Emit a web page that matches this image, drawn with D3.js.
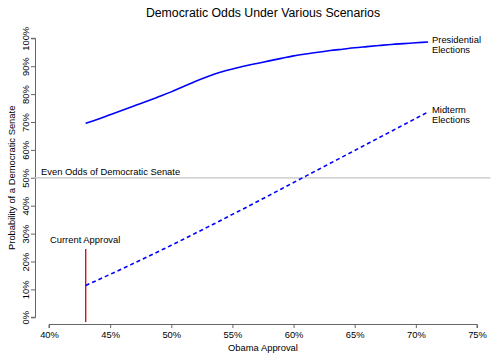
<!DOCTYPE html>
<html><head><meta charset="utf-8">
<script src="https://cdn.jsdelivr.net/npm/d3@7"></script>
<style>
body{margin:0;background:#fff;}
text{font-family:"Liberation Sans",Arial,sans-serif;fill:#000;}
</style></head>
<body><svg id="c" width="495" height="360"></svg>
<script>
const title = "Democratic Odds Under Various Scenarios";
const xTitle = "Obama Approval";
const yTitle = "Probability of a Democratic Senate";
const xTicks = [40,45,50,55,60,65,70,75];
const yTicks = [0,10,20,30,40,50,60,70,80,90,100];
const approval = [43,44,45,46,47,48,49,50,51,52,53,54,55,56,57,58,59,60,61,62,63,64,65,66,67,68,69,70,71];
const presidential = [69.5,71.0,72.6,74.2,75.8,77.4,79.1,80.8,82.7,84.6,86.3,87.8,89.0,90.1,91.0,91.9,92.8,93.7,94.4,95.0,95.6,96.1,96.6,97.0,97.4,97.8,98.1,98.4,98.7];
const midterm = [11.4,13.4,15.4,17.4,19.5,21.6,23.7,25.8,28.0,30.2,32.4,34.6,36.9,39.1,41.4,43.7,46.0,48.3,50.6,52.9,55.2,57.5,59.8,62.1,64.4,66.7,69.0,71.3,73.6];
const seriesLabels = [["Presidential","Elections"],["Midterm","Elections"]];
const currentApproval = 43;
const currentSpan = [-1.7, 24.5];
const evenOdds = 50;
const evenSpan = [38.7, 76.1];
const evenLabel = "Even Odds of Democratic Senate";
const currentLabel = "Current Approval";

const svg = d3.select("#c");
const x = d3.scaleLinear().domain([40,75]).range([49,477]);
const y = d3.scaleLinear().domain([0,100]).range([317.3,38.3]);
const fs = 9.4;

// title
svg.append("text").attr("x",263).attr("y",16.5).attr("text-anchor","middle")
  .style("font-size","12.3px").text(title);

// x axis
const xa = svg.append("g").attr("transform","translate(0,324.5)")
  .call(d3.axisBottom(x).tickValues(xTicks).tickSize(3.5).tickPadding(3).tickFormat(d=>d+"%"));
xa.select(".domain").attr("stroke","#666").attr("d",`M${x(40)},3.5V0H${x(75)}V3.5`);
xa.selectAll(".tick line").attr("stroke","#666");
xa.selectAll(".tick text").style("font-size",fs+"px").attr("fill","#000")
  .attr("font-family","Liberation Sans, Arial, sans-serif");

// y axis
const ya = svg.append("g").attr("transform","translate(35.5,0)")
  .call(d3.axisLeft(y).tickValues(yTicks).tickSize(4.5).tickPadding(0).tickFormat(d=>d+"%"));
ya.select(".domain").attr("stroke","#666").attr("d",`M-4.5,${y(0)}H0V${y(100)}H-4.5`);
ya.selectAll(".tick line").attr("stroke","#666");
ya.selectAll(".tick text").style("font-size",fs+"px").attr("fill","#000")
  .attr("font-family","Liberation Sans, Arial, sans-serif")
  .attr("text-anchor","middle").attr("dy","0")
  .attr("transform","translate(-7,0) rotate(-90)").attr("x",0).attr("y",0);

// axis titles
svg.append("text").attr("x",263).attr("y",351).attr("text-anchor","middle")
  .style("font-size",fs+"px").text(xTitle);
svg.append("text").attr("transform",`translate(15,${y(50)}) rotate(-90)`)
  .attr("text-anchor","middle").style("font-size",fs+"px").text(yTitle);

// even odds line
svg.append("line").attr("x1",x(evenSpan[0])).attr("x2",x(evenSpan[1]))
  .attr("y1",y(evenOdds)).attr("y2",y(evenOdds)).attr("stroke","#c4c4c4").attr("stroke-width",1.2);
svg.append("text").attr("x",41).attr("y",y(evenOdds)-2.5).style("font-size",fs+"px").text(evenLabel);

// current approval
svg.append("line").attr("x1",x(currentApproval)).attr("x2",x(currentApproval))
  .attr("y1",y(currentSpan[0])).attr("y2",y(currentSpan[1])).attr("stroke","#e01010").attr("stroke-width",1.4);
svg.append("text").attr("x",50).attr("y",242.5).style("font-size",fs+"px").text(currentLabel);

// lines
const line = d3.line().x(d=>x(d[0])).y(d=>y(d[1])).curve(d3.curveMonotoneX);
const pres = approval.map((a,i)=>[a,presidential[i]]);
const mid = approval.map((a,i)=>[a,midterm[i]]);
svg.append("path").datum(pres).attr("d",line).attr("fill","none").attr("stroke","#0000ff").attr("stroke-width",1.6);
svg.append("path").datum(mid).attr("d",line).attr("fill","none").attr("stroke","#0000ff").attr("stroke-width",1.6)
  .attr("stroke-dasharray","4,3");

// series labels
const lblPos = [[432,42.5],[432,112.5]];
seriesLabels.forEach((lines,i)=>{
  lines.forEach((t,j)=>{
    svg.append("text").attr("x",lblPos[i][0]).attr("y",lblPos[i][1]+j*10)
      .style("font-size",fs+"px").text(t);
  });
});
</script></body></html>
